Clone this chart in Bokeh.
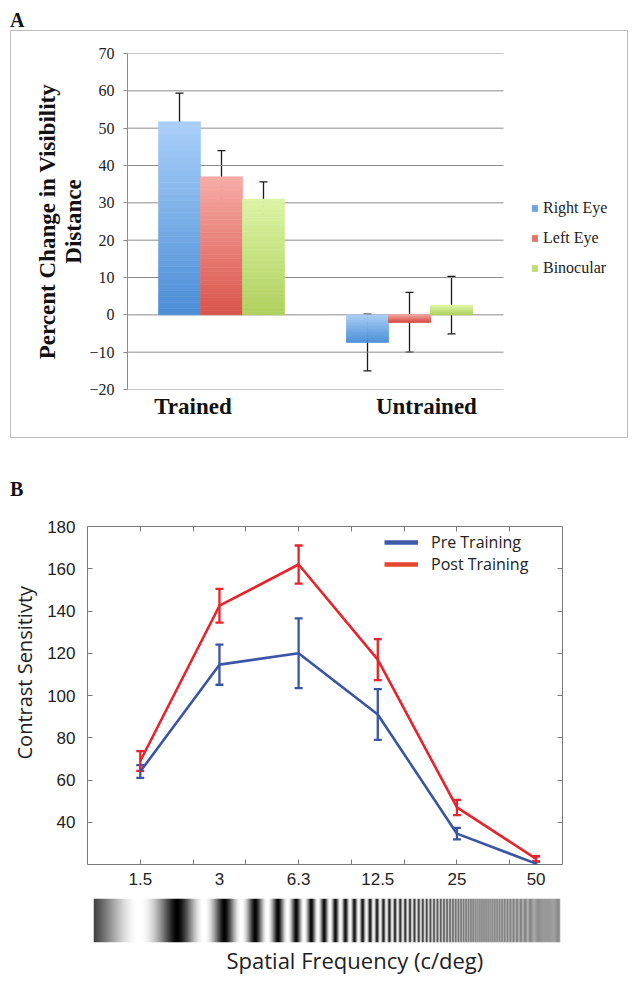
import math
import numpy as np
from bokeh.plotting import figure
from bokeh.models import (ColumnDataSource, Whisker, TeeHead, Legend, LegendItem,
                          FixedTicker, LinearAxis, Range1d, Div, LinearColorMapper, Title)
from bokeh.layouts import column, row
from bokeh.embed import file_html
from bokeh.resources import INLINE

# ---------------- Panel A data ----------------
groups = ["Trained", "Untrained"]
series_a = ["Right Eye", "Left Eye", "Binocular"]
right_eye = [51.7, -7.4]
right_eye_err = [7.7, 7.6]
left_eye = [37.0, -2.0]
left_eye_err = [7.0, 8.0]
binocular = [31.0, 2.6]
binocular_err = [4.6, 7.7]
a_ticks = [-20, -10, 0, 10, 20, 30, 40, 50, 60, 70]

# ---------------- Panel B data ----------------
freq_labels = ["1.5", "3", "6.3", "12.5", "25", "50"]
pre = [64.0, 114.6, 120.0, 91.0, 34.6, 20.4]
pre_err = [3.0, 9.5, 16.5, 12.0, 2.7, 1.0]
post = [69.0, 142.5, 162.0, 117.0, 47.0, 22.7]
post_err = [4.7, 8.0, 9.0, 9.7, 3.6, 1.2]
b_ticks = [40, 60, 80, 100, 120, 140, 160, 180]

# ---------------- styles ----------------
GRID = "#8c8c8c"
SERIF = "Liberation Serif"
SANS = "Liberation Sans"
HUMAN = "Open Sans"
grad = {  # (bottom/dark, top/light)
    "Right Eye": ("#4a8ed6", "#aacff9"),
    "Left Eye": ("#d9544a", "#f7aca6"),
    "Binocular": ("#afd05c", "#ddf4a6"),
}


def hex2rgb(h):
    return tuple(int(h[i:i + 2], 16) for i in (1, 3, 5))


def mix(c1, c2, t):
    a, b = hex2rgb(c1), hex2rgb(c2)
    return "#%02x%02x%02x" % tuple(int(round(a[i] + (b[i] - a[i]) * t)) for i in range(3))


# ================= Panel A =================
PLOT_W_A = 376      # pixel width of the category area
FRAME_W_A = 500     # frame also holds the legend on the right
pA = figure(width=618, height=408,
            x_range=Range1d(0, len(groups) * FRAME_W_A / PLOT_W_A), y_range=Range1d(-20, 70),
            output_backend="svg", toolbar_location=None,
            min_border_left=116, min_border_right=618 - 116 - FRAME_W_A,
            min_border_top=22, min_border_bottom=50,
            margin=(0, 0, 0, 10))
pA.styles = {"border": "1px solid #bdbdbd"}
pA.outline_line_color = None
pA.grid.visible = False

# horizontal grid lines limited to the category area (drawn first, under the bars)
pA.segment(x0=[0] * len(a_ticks), x1=[len(groups)] * len(a_ticks), y0=a_ticks, y1=a_ticks,
           line_color=GRID, line_width=1)

pA.yaxis.ticker = FixedTicker(ticks=a_ticks)
pA.yaxis.axis_line_color = GRID
pA.yaxis.major_tick_line_color = GRID
pA.yaxis.major_tick_out = 4
pA.yaxis.major_tick_in = 0
pA.yaxis.minor_tick_line_color = None
pA.yaxis.major_label_text_font = SERIF
pA.yaxis.major_label_text_font_size = "16px"
pA.yaxis.major_label_text_color = "#222222"
pA.yaxis.major_label_standoff = 9
pA.yaxis.axis_label = "Percent Change in Visibility\nDistance"
pA.yaxis.axis_label_text_font = SERIF
pA.yaxis.axis_label_text_font_style = "bold"
pA.yaxis.axis_label_text_font_size = "23px"
pA.yaxis.axis_label_text_line_height = 1.05
pA.yaxis.axis_label_text_color = "#111111"
pA.yaxis.axis_label_standoff = 0

label_pos = [0.348, 1.59]
pA.xaxis.ticker = FixedTicker(ticks=label_pos)
pA.xaxis.major_label_overrides = {label_pos[i]: groups[i] for i in range(len(groups))}
pA.xaxis.axis_line_color = None
pA.xaxis.major_tick_line_color = None
pA.xaxis.minor_tick_line_color = None
pA.xaxis.major_label_text_font = SERIF
pA.xaxis.major_label_text_font_style = "bold"
pA.xaxis.major_label_text_font_size = "23px"
pA.xaxis.major_label_text_color = "#111111"
pA.xaxis.major_label_standoff = -2

bw = 0.2234
offsets = [-bw, 0.0, bw]
NS = 32
items = []
for si, (name, vals, errs) in enumerate(zip(series_a, [right_eye, left_eye, binocular],
                                             [right_eye_err, left_eye_err, binocular_err])):
    dark, light = grad[name]
    xs, bots, tops, cols = [], [], [], []
    for g, v in enumerate(vals):
        xc = g + 0.5 + offsets[si]
        lo = min(0.0, v)
        for j in range(NS):
            y0 = v * j / NS
            y1 = v * (j + 1) / NS
            t = ((y0 + y1) / 2 - lo) / abs(v)
            xs.append(xc)
            bots.append(y0)
            tops.append(y1)
            cols.append(mix(dark, light, t))
    src = ColumnDataSource(dict(x=xs, bottom=bots, top=tops, color=cols))
    r = pA.vbar(x="x", bottom="bottom", top="top", width=bw, source=src,
                fill_color="color", line_color="color", line_width=0.6)
    items.append(LegendItem(label=name, renderers=[r], index=NS // 3))
    esrc = ColumnDataSource(dict(
        x=[g + 0.5 + offsets[si] for g in range(len(vals))],
        upper=[v + e for v, e in zip(vals, errs)],
        lower=[v - e for v, e in zip(vals, errs)]))
    w = Whisker(source=esrc, base="x", upper="upper", lower="lower",
                line_color="#1a1a1a", line_width=1.3,
                upper_head=TeeHead(size=8, line_color="#1a1a1a", line_width=1.3),
                lower_head=TeeHead(size=8, line_color="#1a1a1a", line_width=1.3))
    pA.add_layout(w)

legA = Legend(items=items, location=(404, 112), orientation="vertical",
              glyph_width=7, glyph_height=8, label_standoff=5,
              label_text_font=SERIF, label_text_font_size="16px", label_text_color="#222222",
              label_height=18, spacing=12, padding=0, margin=0,
              border_line_color=None, background_fill_alpha=0)
pA.add_layout(legA)

# ================= Panel B =================
BOX = "#7a7a7a"
BLUE = "#3b55a5"
RED = "#e8232b"
xi = list(range(len(freq_labels)))
minor_pos = [k * 2.0 / 3.0 for k in range(8)]

pB = figure(width=614, height=390, x_range=Range1d(-2.0 / 3.0, 16.0 / 3.0), y_range=Range1d(20, 180),
            output_backend="svg", toolbar_location=None,
            min_border_left=87, min_border_right=52, min_border_top=21, min_border_bottom=31,
            margin=0)
pB.outline_line_color = BOX
pB.grid.visible = False

pB.yaxis.ticker = FixedTicker(ticks=b_ticks)
pB.yaxis.axis_line_color = None
pB.yaxis.major_tick_in = 5
pB.yaxis.major_tick_out = 0
pB.yaxis.major_tick_line_color = BOX
pB.yaxis.minor_tick_line_color = None
pB.yaxis.major_label_text_font = SANS
pB.yaxis.major_label_text_font_size = "17px"
pB.yaxis.major_label_text_color = "#222222"
pB.yaxis.major_label_standoff = 12

pB.xaxis.ticker = FixedTicker(ticks=xi, minor_ticks=minor_pos)
pB.xaxis.major_label_overrides = {i: freq_labels[i] for i in xi}
pB.xaxis.axis_line_color = None
pB.xaxis.major_tick_in = 0
pB.xaxis.major_tick_out = 0
pB.xaxis.minor_tick_in = 5
pB.xaxis.minor_tick_out = 0
pB.xaxis.minor_tick_line_color = BOX
pB.xaxis.major_label_text_font = SANS
pB.xaxis.major_label_text_font_size = "17px"
pB.xaxis.major_label_text_color = "#222222"
pB.xaxis.major_label_standoff = 8

right_ax = LinearAxis(ticker=FixedTicker(ticks=b_ticks), axis_line_color=None,
                      major_tick_in=5, major_tick_out=0, major_tick_line_color=BOX,
                      minor_tick_line_color=None,
                      major_label_overrides={t: "" for t in b_ticks})
pB.add_layout(right_ax, "right")
top_ax = LinearAxis(ticker=FixedTicker(ticks=minor_pos), axis_line_color=None,
                    major_tick_in=5, major_tick_out=0, major_tick_line_color=BOX,
                    minor_tick_line_color=None,
                    major_label_overrides={t: "" for t in minor_pos})
pB.add_layout(top_ax, "above")

srcB = ColumnDataSource(dict(
    x=xi, pre=pre, post=post,
    pre_up=[v + e for v, e in zip(pre, pre_err)], pre_lo=[v - e for v, e in zip(pre, pre_err)],
    post_up=[v + e for v, e in zip(post, post_err)], post_lo=[v - e for v, e in zip(post, post_err)]))

for ycol, up, lo, col in [("pre", "pre_up", "pre_lo", BLUE), ("post", "post_up", "post_lo", RED)]:
    pB.line(x="x", y=ycol, source=srcB, line_color=col, line_width=2.6)
    pB.add_layout(Whisker(source=srcB, base="x", upper=up, lower=lo, line_color=col, line_width=2.3,
                          upper_head=TeeHead(size=8, line_color=col, line_width=2.3),
                          lower_head=TeeHead(size=8, line_color=col, line_width=2.3)))

nan = float("nan")
leg_pre = pB.line(x=[nan], y=[nan], line_color="#3f5aa8", line_width=4.5)
leg_post = pB.line(x=[nan], y=[nan], line_color="#e4462f", line_width=4.5)
legB = Legend(items=[LegendItem(label="Pre Training", renderers=[leg_pre]),
                     LegendItem(label="Post Training", renderers=[leg_post])],
              location=(297, 289), glyph_width=34, glyph_height=18, label_standoff=13,
              label_text_font=HUMAN, label_text_font_size="16px", label_text_color="#222222",
              label_height=18, spacing=-1, padding=0, margin=0,
              border_line_color=None, background_fill_alpha=0)
pB.add_layout(legB)

pB.add_layout(Title(text="Contrast Sensitivty", align="left", offset=105,
                    text_font=HUMAN, text_font_size="20px", text_font_style="normal",
                    text_color="#222222", standoff=13), "left")

# ================= Grating strip =================
pG = figure(width=614, height=86, x_range=Range1d(0, 1), y_range=Range1d(0, 1),
            output_backend="svg", toolbar_location=None,
            min_border_left=93, min_border_right=54, min_border_top=3, min_border_bottom=39,
            margin=0)
pG.outline_line_color = None
pG.grid.visible = False
pG.yaxis.visible = False
pG.xaxis.visible = False

W = 467
SS = 16
k = 0.0112
xs_px = 93 + (np.arange(W * SS) + 0.5) / SS
phase0 = math.pi - 2 * math.pi / (48 * k) * math.exp(k * (176.7 - 200))
phase = phase0 + 2 * math.pi / (48 * k) * np.exp(k * (xs_px - 200))
inten = (0.5 + 0.5 * np.cos(phase)).reshape(W, SS).mean(axis=1) ** 0.75
img = np.vstack([inten, inten])
grey = ["#%02x%02x%02x" % (i, i, i) for i in range(256)]
pG.image(image=[img], x=0, y=0, dw=1, dh=1,
         color_mapper=LinearColorMapper(palette=grey, low=0, high=1))
pG.add_layout(Title(text="Spatial Frequency (c/deg)", align="left", offset=133,
                    text_font=HUMAN, text_font_size="22px", text_font_style="normal",
                    text_color="#222222", standoff=0), "below")

divA = Div(text="<div style=\"font-family:'Liberation Serif';font-weight:bold;font-size:20px;"
                "line-height:22px;margin-left:10px;padding-top:9px;color:#111\">A</div>",
           width=100, height=30, margin=0)
divB = Div(text="<div style=\"font-family:'Liberation Serif';font-weight:bold;font-size:20px;"
                "line-height:22px;margin-left:10px;padding-top:40px;color:#111\">B</div>",
           width=100, height=67, margin=0)

layout = column(divA, row(pA, margin=0), divB, row(pB, margin=0), row(pG, margin=0),
                spacing=0, margin=0)
open("out.html", "w").write(file_html(layout, INLINE))
